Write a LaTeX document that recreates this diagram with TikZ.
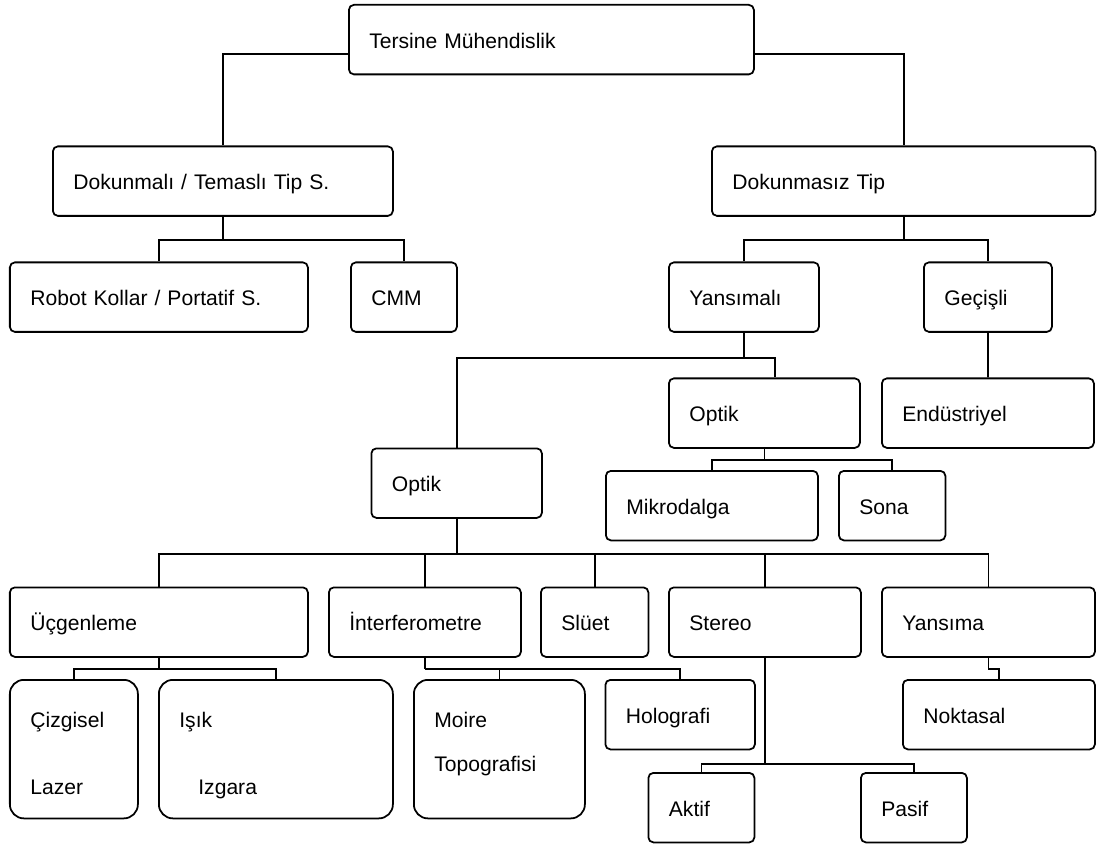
\documentclass[tikz,border=0pt]{standalone}
\usepackage{fontspec}
\setmainfont{Liberation Sans}
\usepackage{tikz}

\tikzset{
  box/.style={draw, line width=1pt, rounded corners=0.1cm, anchor=north west,
    minimum height=1.39cm, inner xsep=0.41cm, inner ysep=0pt, align=left,
    text height=0.34cm, text depth=0cm,
    font=\fontsize{12}{14.4}\selectfont},
  tallbox/.style={box, rounded corners=0.28cm, minimum height=2.77cm,
    text depth=1.22cm},
  link/.style={line width=1pt}
}

\begin{document}
\begin{tikzpicture}
        \useasboundingbox (0,0) rectangle (21.98,-16.9);

        % boxes
        \node[box, text width=7.28cm] (ters) at (6.96,-0.08) {Tersine Mühendislik};
        \node[box, text width=5.98cm] (dok) at (1.04,-2.91) {Dokunmalı / Temaslı Tip S.};
        \node[box, text width=6.85cm] (dms) at (14.22,-2.91) {Dokunmasız Tip};
        \node[box, text width=5.14cm] (robot) at (0.18,-5.23) {Robot Kollar / Portatif S.};
        \node[box, text width=1.30cm] (cmm) at (7.00,-5.23) {CMM};
        \node[box, text width=2.18cm] (yan) at (13.36,-5.23) {Yansımalı};
        \node[box, text width=1.74cm] (gec) at (18.46,-5.23) {Geçişli};
        \node[box, text width=3.00cm] (optr) at (13.36,-7.55) {Optik};
        \node[box, text width=3.42cm] (endu) at (17.62,-7.55) {Endüstriyel};
        \node[box, text width=2.59cm] (optl) at (7.41,-8.95) {Optik};
        \node[box, text width=3.42cm] (mikro) at (12.10,-9.40) {Mikrodalga};
        \node[box, text width=1.31cm] (sona) at (16.76,-9.40) {Sona};
        \node[box, text width=5.14cm] (ucg) at (0.18,-11.73) {Üçgenleme};
        \node[box, text width=3.02cm] (inter) at (6.56,-11.73) {İnterferometre};
        \node[box, text width=1.33cm] (sluet) at (10.80,-11.73) {Slüet};
        \node[box, text width=3.02cm] (stereo) at (13.36,-11.73) {Stereo};
        \node[box, text width=3.44cm] (yansima) at (17.62,-11.73) {Yansıma};
        \node[tallbox, text width=1.74cm] (cizg) at (0.18,-13.58) {Çizgisel\\[23.7pt]Lazer};
        \node[tallbox, text width=3.86cm] (isik) at (3.16,-13.58) {Işık\\[23.7pt]\hspace*{0.38cm}Izgara};
        \node[tallbox, text width=2.60cm] (moire) at (8.26,-13.58) {Moire\\[10.6pt]Topografisi};
        \node[box, text width=2.17cm] (holo) at (12.09,-13.58) {Holografi};
        \node[box, text width=3.02cm] (nokta) at (18.04,-13.58) {Noktasal};
        \node[box, text width=1.30cm] (aktif) at (12.95,-15.44) {Aktif};
        \node[box, text width=1.30cm] (pasif) at (17.20,-15.44) {Pasif};

        %% lines
        \draw[link] ([yshift=-0.29cm]ters.west) -| (dok.north);
        \draw[link] ([yshift=-0.29cm]ters.east) -| (dms.north);

        \draw[link] (dok.south) -- ++(0,-0.47) coordinate (dokj);
        \draw[link] (dokj) -| (robot.north);
        \draw[link] (dokj) -| (cmm.north);

        \draw[link] (dms.south) -- ++(0,-0.47) coordinate (dmsj);
        \draw[link] (dmsj) -| (yan.north);
        \draw[link] (dmsj) -| (gec.north);

        \draw[link] (yan.south) -- ++(0,-0.5) coordinate (yanj);
        \draw[link] (yanj) -| (optl.north);
        \draw[link] (yanj) -| ([xshift=0.21cm]optr.north);
        \draw[link] (gec.south) -- (endu.north);

        \draw[link] (optr.south) -- ++(0,-0.23) coordinate (optrj);
        \draw[link] (optrj) -| (mikro.north);
        \draw[link] (optrj) -| (sona.north);

        \draw[link] (optl.south) -- ++(0,-0.7) coordinate (optlj);
        \draw[link] (optlj) -| (ucg.north);
        \draw[link] (optlj) -| (inter.north);
        \draw[link] (optlj) -| (sluet.north);
        \draw[link] (optlj) -| (stereo.north);
        \draw[link] (optlj) -| (yansima.north);

        \draw[link] (ucg.south) -- ++(0,-0.23) coordinate (ucgj);
        \draw[link] (ucgj) -| (cizg.north);
        \draw[link] (ucgj) -| (isik.north);

        \draw[link] (inter.south) -- ++(0,-0.23) coordinate (interj);
        \draw[link] (interj) -| (moire.north);
        \draw[link] (interj) -| (holo.north);

        \draw[link] (stereo.south) -- ++(0,-2.12) coordinate (stereoj);
        \draw[link] (stereoj) -| (aktif.north);
        \draw[link] (stereoj) -| (pasif.north);

        \draw[link] (yansima.south) -- ++(0,-0.23) coordinate (yansimaj);
        \draw[link] (yansimaj) -| (nokta.north);
\end{tikzpicture}
\end{document}
